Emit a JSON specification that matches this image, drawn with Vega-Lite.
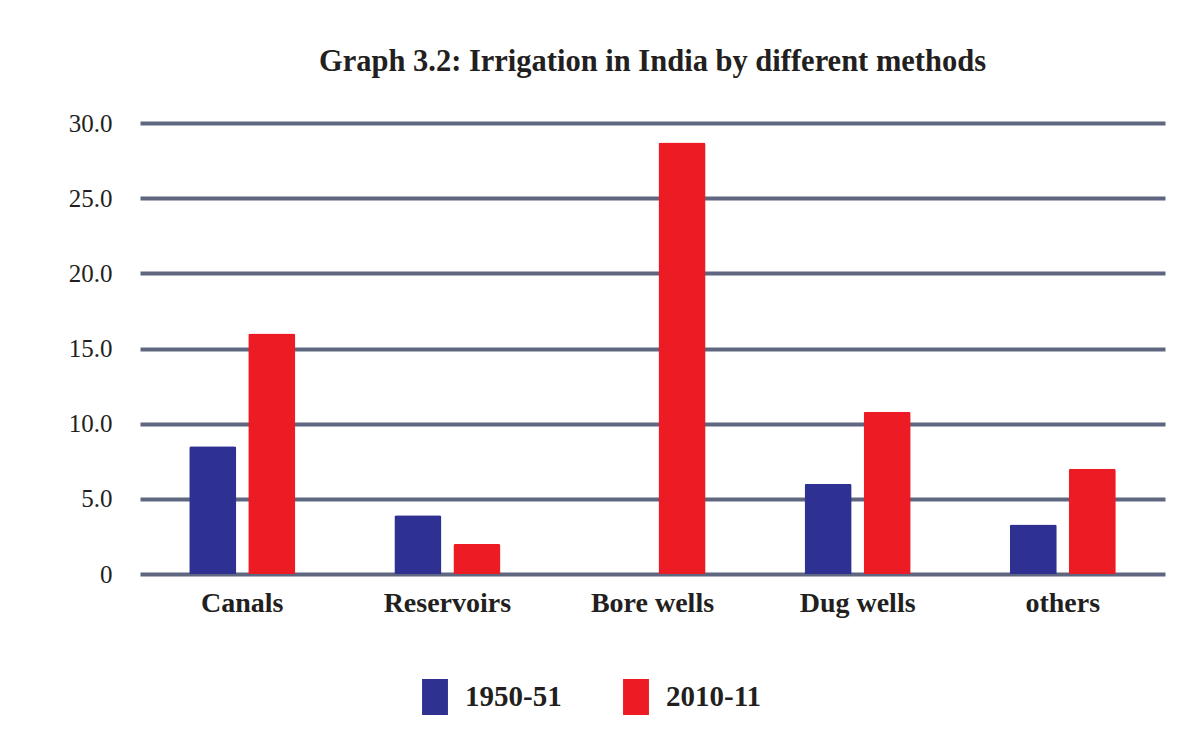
{
  "$schema": "https://vega.github.io/schema/vega-lite/v6.json",
  "autosize": {"type": "none"},
  "padding": {"left": 140, "top": 123, "right": 17, "bottom": 157},
  "width": 1025,
  "height": 451,
  "background": "white",
  "title": {
    "text": "Graph 3.2: Irrigation in India by different methods",
    "font": "Liberation Serif",
    "fontSize": 30.5,
    "fontWeight": "bold",
    "color": "#231f20",
    "anchor": "middle",
    "offset": 34
  },
  "data": {
    "values": [
      {"method": "Canals", "year": "1950-51", "value": 8.5},
      {"method": "Canals", "year": "2010-11", "value": 16.0},
      {"method": "Reservoirs", "year": "1950-51", "value": 3.9},
      {"method": "Reservoirs", "year": "2010-11", "value": 2.0},
      {"method": "Bore wells", "year": "2010-11", "value": 28.7},
      {"method": "Dug wells", "year": "1950-51", "value": 6.0},
      {"method": "Dug wells", "year": "2010-11", "value": 10.8},
      {"method": "others", "year": "1950-51", "value": 3.3},
      {"method": "others", "year": "2010-11", "value": 7.0}
    ]
  },
  "mark": {"type": "bar", "cornerRadiusTopLeft": 2, "cornerRadiusTopRight": 2},
  "encoding": {
    "x": {
      "field": "method",
      "type": "nominal",
      "sort": ["Canals", "Reservoirs", "Bore wells", "Dug wells", "others"],
      "scale": {"paddingInner": 0.483, "paddingOuter": 0.24},
      "axis": {
        "title": null,
        "domain": false,
        "ticks": false,
        "labelAngle": 0,
        "labelFont": "Liberation Serif",
        "labelFontSize": 28,
        "labelFontWeight": "bold",
        "labelColor": "#231f20",
        "labelPadding": 15
      }
    },
    "xOffset": {
      "field": "year",
      "type": "nominal",
      "scale": {"domain": ["1950-51", "2010-11"], "paddingInner": 0.2034, "paddingOuter": 0}
    },
    "y": {
      "field": "value",
      "type": "quantitative",
      "scale": {"domain": [0, 30], "nice": false},
      "axis": {
        "title": null,
        "domain": false,
        "ticks": false,
        "values": [0, 5, 10, 15, 20, 25, 30],
        "labelExpr": "datum.value == 0 ? '0' : format(datum.value, '.1f')",
        "labelFont": "Liberation Serif",
        "labelFontSize": 25,
        "labelColor": "#231f20",
        "labelPadding": 28,
        "grid": true,
        "gridColor": "#5f6680",
        "gridWidth": 4,
        "gridOpacity": 1
      }
    },
    "color": {
      "field": "year",
      "type": "nominal",
      "scale": {"domain": ["1950-51", "2010-11"], "range": ["#2e3192", "#ed1c24"]},
      "legend": {
        "title": null,
        "orient": "none",
        "legendX": 277,
        "legendY": 556,
        "direction": "horizontal",
        "symbolType": "M-0.72,-1H0.72V1H-0.72Z",
        "symbolSize": 1296,
        "symbolStrokeWidth": 0,
        "labelFont": "Liberation Serif",
        "labelFontSize": 29,
        "labelFontWeight": "bold",
        "labelColor": "#231f20",
        "labelOffset": 12,
        "columnPadding": 56
      }
    }
  },
  "config": {"view": {"stroke": null}}
}
